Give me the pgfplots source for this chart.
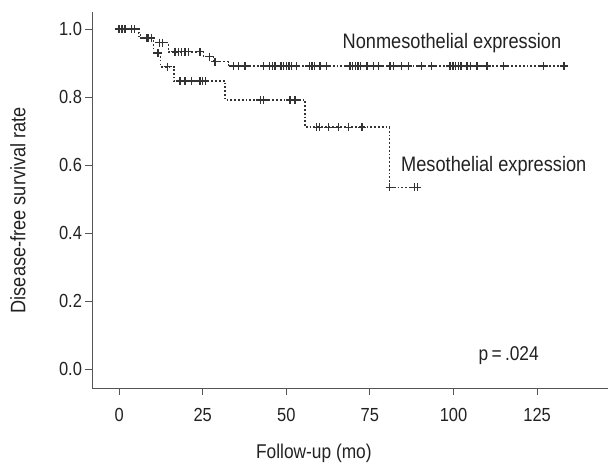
\documentclass[border=0pt]{standalone}
\usepackage{pgfplots}
\pgfplotsset{compat=1.18}
\usepackage{pgfplotstable}
\usepackage{fontspec}
\setmainfont{Liberation Sans}[FakeStretch=0.87]
\definecolor{curve}{HTML}{333333}
\definecolor{axc}{HTML}{555555}
\definecolor{txt}{HTML}{222222}

\pgfplotstableread{
t s
0 1.000
5.8 0.982
6.8 0.973
10.3 0.960
14.8 0.933
25.2 0.919
28.2 0.904
32.7 0.891
133 0.891
}\nonstep
\pgfplotstableread{
t s
0 1.000
0.9 1.000
1.8 1.000
3.8 1.000
4.7 1.000
8.3 0.973
12.0 0.960
13.0 0.960
16.7 0.933
17.7 0.933
18.7 0.933
19.7 0.933
20.7 0.933
24.2 0.933
27.0 0.919
28.7 0.904
34.2 0.891
35.7 0.891
37.7 0.891
43.2 0.891
45.0 0.891
45.8 0.891
46.6 0.891
48.4 0.891
49.2 0.891
50.0 0.891
50.8 0.891
51.6 0.891
53.0 0.891
56.9 0.891
57.7 0.891
58.5 0.891
60.1 0.891
62.1 0.891
69.0 0.891
69.8 0.891
70.6 0.891
71.4 0.891
72.2 0.891
74.1 0.891
76.0 0.891
77.6 0.891
81.0 0.891
82.0 0.891
84.5 0.891
86.5 0.891
90.5 0.891
93.5 0.891
99.0 0.891
99.8 0.891
100.6 0.891
101.4 0.891
102.2 0.891
104.0 0.891
105.0 0.891
107.0 0.891
110.0 0.891
115.0 0.891
127.0 0.891
133.0 0.891
}\noncens
\pgfplotstableread{
t s
0 1.000
6.0 0.973
10.3 0.929
12.4 0.889
16.4 0.847
31.7 0.791
55.6 0.711
80.9 0.534
89.2 0.534
}\messtep
\pgfplotstableread{
t s
8.8 0.973
9.6 0.973
11.6 0.929
14.5 0.889
18.2 0.847
19.7 0.847
21.7 0.847
24.2 0.847
25.0 0.847
25.8 0.847
42.2 0.791
43.2 0.791
51.1 0.791
52.6 0.791
59.1 0.711
59.9 0.711
62.6 0.711
65.6 0.711
68.6 0.711
72.6 0.711
80.9 0.534
88.4 0.534
89.2 0.534
}\mescens

\begin{document}
\begin{tikzpicture}
\useasboundingbox (-92bp,-78bp) rectangle (516bp,388bp);
\begin{axis}[
  at={(0,0)}, anchor=south west,
  scale only axis,
  width=516bp, height=376bp,
  xmin=-8.1, xmax=146.2, ymin=-0.056, ymax=1.05,
  axis lines*=left,
  axis line style={axc, line width=0.9pt},
  every outer x axis line/.append style={-},
  every outer y axis line/.append style={-},
  xtick={0,25,50,75,100,125},
  ytick={0,0.2,0.4,0.6,0.8,1.0},
  tick align=outside,
  major tick length=6.5bp,
  tick style={axc, line width=0.9pt},
  yticklabel style={/pgf/number format/fixed, /pgf/number format/fixed zerofill, /pgf/number format/precision=1},
  /pgf/number format/assume math mode=true,
  ticklabel style={font=\fontsize{19}{22}\selectfont, text=txt},
  xticklabel style={yshift=-10bp},
  xlabel={Follow-up (mo)},
  ylabel={Disease-free survival rate},
  label style={font=\fontsize{20}{23}\selectfont, text=txt},
  xlabel style={at={(axis description cs:0.43,-0.173)}, anchor=center},
  ylabel style={at={(axis description cs:-0.1434,0.473)}, anchor=center, font=\fontsize{21}{24}\selectfont},
  clip=false,
]
\addplot[const plot, curve, line width=1.7bp, dash pattern=on 1.7bp off 2.1bp] table[x=t,y=s] {\nonstep};
\addplot[only marks, mark=+, mark size=4bp, curve, mark options={line width=1.35bp, solid}] table[x=t,y=s] {\noncens};
\addplot[const plot, curve, line width=1.7bp, dash pattern=on 1.7bp off 2.1bp] table[x=t,y=s] {\messtep};
\addplot[only marks, mark=+, mark size=4bp, curve, mark options={line width=1.35bp, solid}] table[x=t,y=s] {\mescens};
\node[anchor=west, font=\fontsize{21}{24}\selectfont, text=txt, inner sep=0pt] at (axis cs:66.8,0.958) {Nonmesothelial expression};
\node[anchor=west, font=\fontsize{21}{24}\selectfont, text=txt, inner sep=0pt] at (axis cs:84.3,0.596) {Mesothelial expression};
\node[font=\fontsize{20}{23}\selectfont, text=txt, inner sep=0pt] at (axis cs:116.5,0.04) {p\,=\,.024};
\end{axis}
\end{tikzpicture}
\end{document}
